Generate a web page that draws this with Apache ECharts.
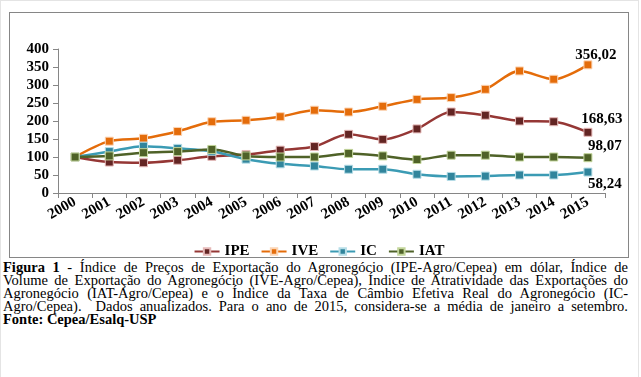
<!DOCTYPE html>
<html>
<head>
<meta charset="utf-8">
<script src="https://cdn.jsdelivr.net/npm/echarts@6/dist/echarts.min.js"></script>
<style>
  body { margin: 0; background: #fff; width: 641px; height: 377px; position: relative; overflow: hidden; }
  #frame { position: absolute; left: 0; top: 0; width: 639px; height: 377px; border: 1px solid #e4e4e4; border-bottom: none; box-sizing: border-box; }
  #chart { position: absolute; left: 9px; top: 12px; width: 620px; height: 246px; border: 1px solid #868686; box-sizing: border-box; }
  #caption { position: absolute; left: 3px; top: 261px; width: 625px; font-family: 'Liberation Serif'; font-size: 14.5px; line-height: 13px; color: #000; }
  #caption div { text-align: justify; text-align-last: justify; white-space: nowrap; }
  #caption div.last { text-align-last: left; }
</style>
</head>
<body>
<div id="frame"></div>
<div id="chart"></div>
<div id="caption">
  <div><b>Figura 1</b> - Índice de Preços de Exportação do Agronegócio (IPE-Agro/Cepea) em dólar, Índice de</div>
  <div>Volume de Exportação do Agronegócio (IVE-Agro/Cepea), Índice de Atratividade das Exportações do</div>
  <div>Agronegócio (IAT-Agro/Cepea) e o Índice da Taxa de Câmbio Efetiva Real do Agronegócio (IC-</div>
  <div>Agro/Cepea).&nbsp; Dados anualizados. Para o ano de 2015, considera-se a média de janeiro a setembro.</div>
  <div class="last"><b>Fonte: Cepea/Esalq-USP</b></div>
</div>
<script>
const years = ['2000', '2001', '2002', '2003', '2004', '2005', '2006', '2007',
  '2008', '2009', '2010', '2011', '2012', '2013', '2014', '2015']

const ipe = [100, 86, 84, 91, 102, 107, 119, 129, 163, 149, 178, 225, 216, 200, 198, 168.63]
const ive = [100, 144, 152, 171, 198, 202, 212, 230, 225, 241, 260, 265, 288, 339, 316, 356.02]
const ic = [100, 115, 130, 124, 116, 94, 81, 75, 66, 66, 52, 46, 47, 50, 50, 58.24]
const iat = [100, 103, 112, 115, 121, 103, 100, 100, 110, 103, 93, 105, 105, 100, 100, 98.07]

const serif = 'Liberation Serif'

const chart = echarts.init(document.getElementById('chart'))

const makeSeries = (name, values, lineColor, markColor, borderColor, labelPos, labelOffset) => ({
  name,
  type: 'line',
  smooth: 0.3,
  symbol: 'rect',
  symbolSize: 8,
  lineStyle: { color: lineColor, width: 2.5 },
  itemStyle: { color: markColor, borderColor: borderColor, borderWidth: 1 },
  data: values.map((v, i) => {
    if (i !== values.length - 1) return v
    // só o último ponto leva rótulo
    return {
      value: v,
      label: {
        show: true,
        position: labelPos,
        offset: labelOffset,
        formatter: () => v.toFixed(2).replace('.', ','),
        fontFamily: serif,
        fontWeight: 'bold',
        fontSize: 15,
        color: '#000'
      }
    }
  })
})

chart.setOption({
  animation: false,
  textStyle: { fontFamily: serif },
  grid: { left: 48, top: 36, width: 547, height: 144 },
  legend: {
    top: 226,
    left: 'center',
    itemWidth: 25,
    itemHeight: 8,
    itemGap: 11,
    textStyle: { fontFamily: serif, fontWeight: 'bold', fontSize: 15, color: '#000' },
    data: ['IPE', 'IVE', 'IC', 'IAT']
  },
  xAxis: {
    type: 'category',
    data: years,
    boundaryGap: true,
    axisLine: { lineStyle: { color: '#868686' } },
    axisTick: { show: true, length: 5, lineStyle: { color: '#868686' } },
    axisLabel: {
      rotate: 30,
      interval: 0,
      margin: 8,
      fontFamily: serif,
      fontWeight: 'bold',
      fontSize: 15,
      color: '#000'
    }
  },
  yAxis: {
    type: 'value',
    min: 0,
    max: 400,
    interval: 50,
    axisLine: { show: true, lineStyle: { color: '#868686' } },
    axisTick: { show: true, length: 5, lineStyle: { color: '#868686' } },
    splitLine: { show: false },
    axisLabel: {
      margin: 9,
      fontFamily: serif,
      fontWeight: 'bold',
      fontSize: 15,
      color: '#000'
    }
  },
  series: [
    makeSeries('IPE', ipe, '#953735', '#632523', '#e6b9b8', 'top', [14, 4]),
    makeSeries('IVE', ive, '#e46c0a', '#e46c0a', '#fcd5b5', 'top', [8, 7]),
    makeSeries('IC', ic, '#3b9bb4', '#31859c', '#b7dee8', 'bottom', [17, -5]),
    makeSeries('IAT', iat, '#4f6228', '#4f6228', '#c3d69b', 'top', [17, 5])
  ]
})
</script>
</body>
</html>
